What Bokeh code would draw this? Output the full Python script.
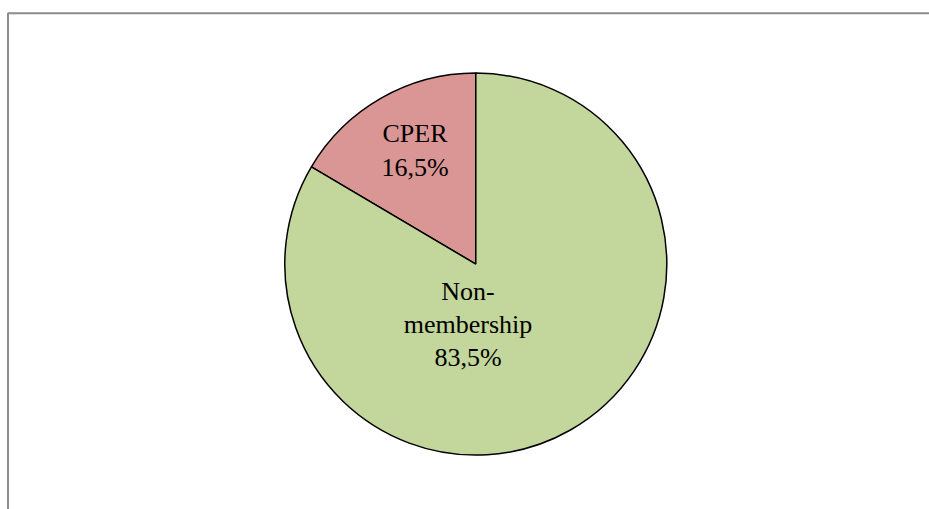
import math
from bokeh.plotting import figure
from bokeh.models import Range1d, ColumnDataSource
from bokeh.core.properties import value
from bokeh.embed import file_html
from bokeh.resources import INLINE

# ---- data ----
categories = ["CPER", "Non-membership"]
shares = [16.5, 83.5]
colors = ["#D99694", "#C3D69B"]

# ---- layout constants (pixels) ----
W, H = 929, 509
CX, CY, R = 475.3, 245.4, 191.0
# label anchor offsets relative to pie centre
label_dx = [-60.8, -7.8]
label_dy = [113.6, -60.3]

total = sum(shares)
starts, ends = [], []
a = math.pi / 2
for s in shares:
    starts.append(a)
    a += 2 * math.pi * s / total
    ends.append(a)

labels = []
for c, s in zip(categories, shares):
    name = c.replace("-", "-\n")
    labels.append(f"{name}\n{s:.1f}%".replace(".", ","))

src = ColumnDataSource(dict(
    start=starts, end=ends, color=colors,
    x=[CX] * len(shares), y=[CY] * len(shares),
    lx=[CX + d for d in label_dx], ly=[CY + d for d in label_dy],
    label=labels,
))

p = figure(width=W, height=H, output_backend="svg", toolbar_location=None,
           x_range=Range1d(0, W), y_range=Range1d(0, H), min_border=0)
p.axis.visible = False
p.grid.visible = False
p.outline_line_color = None
p.background_fill_color = "white"
p.border_fill_color = "white"

# chart area border (extends beyond the visible window)
p.quad(left=[7.5], right=[W + 50], top=[H - 12.7], bottom=[-50],
       fill_color=None, line_color="#8C8C8C", line_width=2)

p.wedge(x="x", y="y", radius=R, start_angle="start", end_angle="end",
        fill_color="color", line_color="black", line_width=1.5, source=src)

p.text(x="lx", y="ly", text="label", source=src,
       text_font=value("Liberation Serif"), text_font_size="26px",
       text_align="center", text_baseline="middle", text_color="black",
       text_line_height=1.15)

open("out.html", "w").write(file_html(p, INLINE))
